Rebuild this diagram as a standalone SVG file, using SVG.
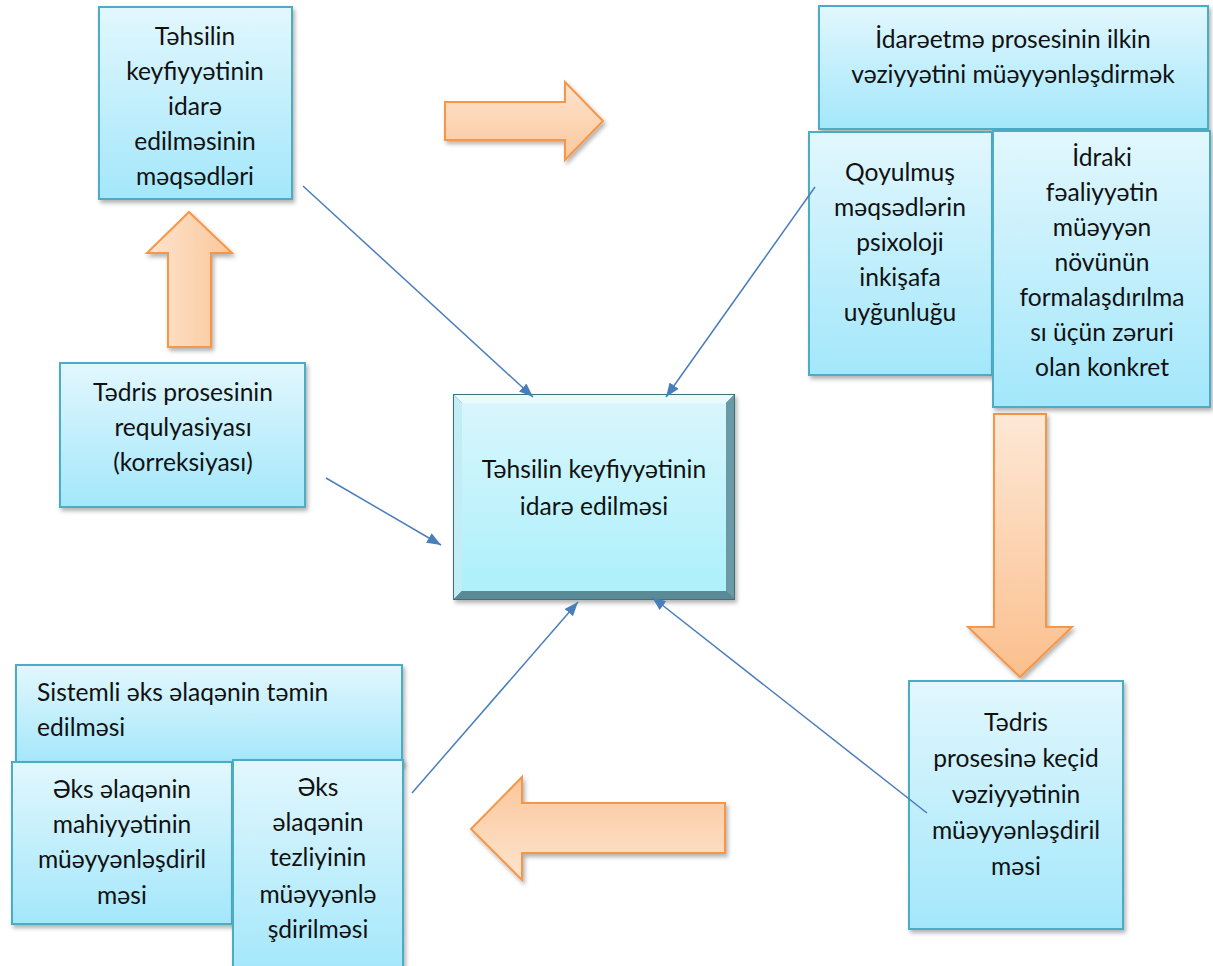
<svg xmlns="http://www.w3.org/2000/svg" width="1213" height="966" viewBox="0 0 1213 966">
<defs>
<style>
.box{fill:url(#boxGrad);stroke:#4bacc6;stroke-width:2;filter:url(#shadow)}
.t{font-family:Lato,"Open Sans","Liberation Sans",sans-serif;font-size:24.6px;fill:#111;text-anchor:middle}
.tl{text-anchor:start}
.oa{stroke:#f79646;stroke-width:2;stroke-linejoin:miter;filter:url(#shadow)}
.conn{stroke:#4a7ebb;stroke-width:1.5;fill:none;marker-end:url(#ah)}
</style>
<linearGradient id="boxGrad" x1="0" y1="0" x2="0" y2="1">
<stop offset="0" stop-color="#e2f7fd"/>
<stop offset="1" stop-color="#a3e7fb"/>
</linearGradient>
<linearGradient id="faceGrad" x1="0" y1="0" x2="0" y2="1">
<stop offset="0" stop-color="#d8f6fc"/>
<stop offset="1" stop-color="#adf0fb"/>
</linearGradient>
<linearGradient id="oRight" x1="0" y1="0" x2="0" y2="1">
<stop offset="0" stop-color="#fde4cf"/>
<stop offset="1" stop-color="#fbc79b"/>
</linearGradient>
<linearGradient id="oLeft" x1="0" y1="0" x2="0" y2="1">
<stop offset="0" stop-color="#fbc79b"/>
<stop offset="1" stop-color="#fde4cf"/>
</linearGradient>
<linearGradient id="oUp" x1="0" y1="0" x2="1" y2="0">
<stop offset="0" stop-color="#fde4cf"/>
<stop offset="1" stop-color="#fbc79b"/>
</linearGradient>
<linearGradient id="oDown" x1="0" y1="0" x2="0" y2="1">
<stop offset="0" stop-color="#fde8d6"/>
<stop offset="1" stop-color="#fbbf8d"/>
</linearGradient>
<filter id="shadow" x="-10%" y="-10%" width="125%" height="125%">
<feDropShadow dx="2" dy="3" stdDeviation="2" flood-color="#000" flood-opacity="0.3"/>
</filter>
<marker id="ah" markerUnits="userSpaceOnUse" markerWidth="14" markerHeight="11" viewBox="0 0 14 11" refX="14" refY="5.5" orient="auto">
<path d="M0,0 L14,5.5 L0,11 z" fill="#4a7ebb"/>
</marker>
</defs>

<!-- orange block arrows -->
<g id="block-arrows">
<polygon class="oa" fill="url(#oRight)" points="445,102 565,102 565,82 603,121 565,160 565,140 445,140"/>
<polygon class="oa" fill="url(#oUp)" points="189,212 232,253 211,253 211,347 168,347 168,253 147,253"/>
<polygon class="oa" fill="url(#oDown)" points="994,414 1046,414 1046,627 1072,627 1020,677 968,627 994,627"/>
<polygon class="oa" fill="url(#oLeft)" points="471,829 522,777 522,803 725,803 725,853 522,853 522,880"/>
</g>

<g id="n1">
<rect class="box" x="99" y="7" width="193" height="192"/>
<text class="t" x="195" y="45">Təhsilin</text>
<text class="t" x="195" y="80">keyfiyyətinin</text>
<text class="t" x="195" y="115">idarə</text>
<text class="t" x="195" y="150">edilməsinin</text>
<text class="t" x="195" y="185">məqsədləri</text>
</g>

<g id="n2">
<rect class="box" x="819" y="6" width="389" height="123"/>
<text class="t" x="1013" y="48">İdarəetmə prosesinin ilkin</text>
<text class="t" x="1013" y="83">vəziyyətini müəyyənləşdirmək</text>
</g>

<g id="n3">
<rect class="box" x="809" y="132" width="183" height="243"/>
<text class="t" x="900" y="181">Qoyulmuş</text>
<text class="t" x="900" y="216">məqsədlərin</text>
<text class="t" x="900" y="251">psixoloji</text>
<text class="t" x="900" y="286">inkişafa</text>
<text class="t" x="900" y="321">uyğunluğu</text>
</g>

<g id="n4">
<rect class="box" x="993" y="131" width="217" height="276"/>
<text class="t" x="1102" y="166">İdraki</text>
<text class="t" x="1102" y="201">fəaliyyətin</text>
<text class="t" x="1102" y="236">müəyyən</text>
<text class="t" x="1102" y="271">növünün</text>
<text class="t" x="1102" y="306">formalaşdırılma</text>
<text class="t" x="1102" y="341">sı üçün zəruri</text>
<text class="t" x="1102" y="376">olan konkret</text>
</g>

<g id="n5">
<rect class="box" x="60" y="363" width="245" height="144"/>
<text class="t" x="183" y="401">Tədris prosesinin</text>
<text class="t" x="183" y="436">requlyasiyası</text>
<text class="t" x="183" y="471">(korreksiyası)</text>
</g>

<g id="center">
<g filter="url(#shadow)">
<rect x="453" y="394" width="282" height="206" fill="#3f6f7c"/>
<polygon points="454,395 734,395 726,403 462,403" fill="#eafbfe"/>
<polygon points="454,395 462,403 462,591 454,599" fill="#c3edf5"/>
<polygon points="734,395 734,599 726,591 726,403" fill="#6a9aa6"/>
<polygon points="454,599 734,599 726,591 462,591" fill="#5a8a96"/>
<rect x="462" y="403" width="264" height="188" fill="url(#faceGrad)"/>
</g>
<text class="t" x="594" y="478">Təhsilin keyfiyyətinin</text>
<text class="t" x="594" y="515">idarə edilməsi</text>
</g>

<g id="n6">
<rect class="box" x="909" y="681" width="214" height="248"/>
<text class="t" x="1016" y="731">Tədris</text>
<text class="t" x="1016" y="767">prosesinə keçid</text>
<text class="t" x="1016" y="803">vəziyyətinin</text>
<text class="t" x="1016" y="839">müəyyənləşdiril</text>
<text class="t" x="1016" y="875">məsi</text>
</g>

<g id="n7">
<rect class="box" x="16" y="665" width="386" height="100"/>
<text class="t tl" x="37" y="701">Sistemli əks əlaqənin təmin</text>
<text class="t tl" x="37" y="736">edilməsi</text>
</g>

<g id="n8">
<rect class="box" x="12" y="762" width="220" height="162"/>
<text class="t" x="122" y="798">Əks əlaqənin</text>
<text class="t" x="122" y="833">mahiyyətinin</text>
<text class="t" x="122" y="868">müəyyənləşdiril</text>
<text class="t" x="122" y="904">məsi</text>
</g>

<g id="n9">
<rect class="box" x="233" y="760" width="170" height="215"/>
<text class="t" x="318" y="796">Əks</text>
<text class="t" x="318" y="831">əlaqənin</text>
<text class="t" x="318" y="866">tezliyinin</text>
<text class="t" x="318" y="903">müəyyənlə</text>
<text class="t" x="318" y="938">şdirilməsi</text>
</g>

<g id="connectors">
<line class="conn" x1="303" y1="186" x2="533" y2="397"/>
<line class="conn" x1="815" y1="187" x2="666" y2="397"/>
<line class="conn" x1="326" y1="478" x2="441" y2="545"/>
<line class="conn" x1="412" y1="793" x2="578" y2="602"/>
<line class="conn" x1="927" y1="813" x2="652" y2="597"/>
</g>
</svg>
